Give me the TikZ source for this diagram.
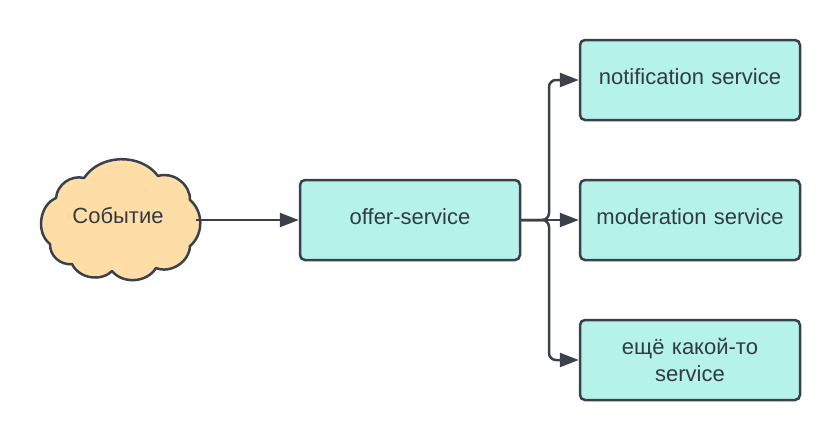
\documentclass[tikz,border=0pt]{standalone}
\usepackage{fontspec}
\setmainfont{Liberation Sans}
\usetikzlibrary{arrows.meta}
\definecolor{boxfill}{HTML}{B5F3EA}
\definecolor{cloudfill}{HTML}{FFDDA6}
\definecolor{edge}{HTML}{3A414B}
\definecolor{txt}{HTML}{333A44}
\tikzset{
  svc/.style={draw=edge, line width=2.5pt, fill=boxfill, rounded corners=5pt,
    minimum width=220pt, minimum height=80pt, inner sep=0pt, text=txt,
    font=\fontsize{22pt}{27pt}\selectfont, align=center, text width=200pt},
  oneline/.style={text height=16pt, text depth=8pt},
  cloudline/.style={draw=edge, line width=2.5pt, fill=cloudfill, line join=round},
  cloudtext/.style={text=txt, font=\fontsize{22pt}{27pt}\selectfont, inner sep=0pt,
    text height=16pt, text depth=8pt},
  conn/.style={draw=edge, line width=2.5pt, rounded corners=7pt,
    -{Triangle[length=19pt,width=14pt]}}
}
\begin{document}
\begin{tikzpicture}[x=1pt,y=-1pt]
\useasboundingbox (0,0) rectangle (840,440);
\coordinate (evE) at (196,220);
% cloud outline
\path[cloudline] (84,178) to[bend left=55] (158,176)
  to[bend left=55] (190,200)
  to[bend left=50] (190,246)
  to[bend left=55] (156,268)
  to[bend left=55] (112,271)
  to[bend left=55] (72,264)
  to[bend left=50] (50,244)
  to[bend left=60] (56,198)
  to[bend left=50] (84,178) -- cycle;
\node[cloudtext] (ev) at (118,219) {Событие};
\node[svc,oneline] (offer) at (410,220) {offer-service};
\node[svc,oneline] (notif) at (690,80) {notification service};
\node[svc,oneline] (mod) at (690,220) {moderation service};
\node[svc] (other) at (690,360) {ещё какой-то\\service};
\coordinate (split) at (549,220);
\draw[conn] (evE) -- (offer.west);
\draw[conn] (offer.east) -- (mod.west);
\draw[conn] (offer.east) -- (split) |- (notif.west);
\draw[conn] (offer.east) -- (split) |- (other.west);
\end{tikzpicture}
\end{document}
